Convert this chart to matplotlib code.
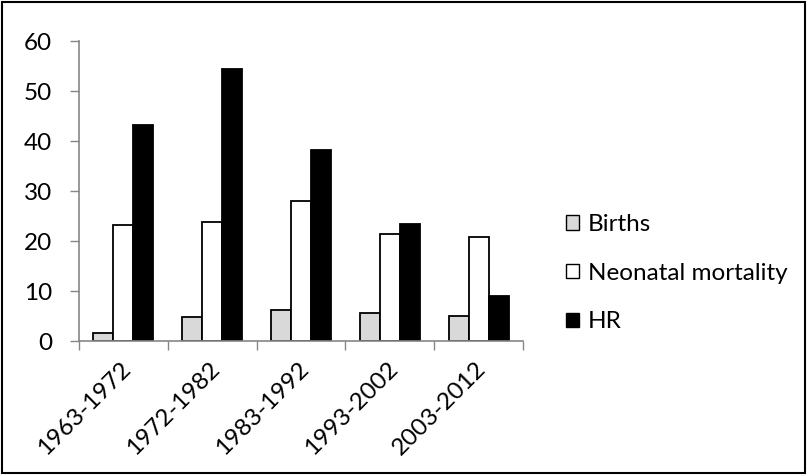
import matplotlib
matplotlib.use("Agg")
import matplotlib.pyplot as plt
import matplotlib.transforms as mtransforms
import numpy as np
from matplotlib.patches import Rectangle

categories = ["1963-1972", "1972-1982", "1983-1992", "1993-2002", "2003-2012"]
births = [1.6, 4.8, 6.2, 5.6, 5.1]
neonatal = [23.2, 23.9, 28.0, 21.5, 20.9]
hr = [43.2, 54.5, 38.3, 23.4, 9.0]
series_names = ["Births", "Neonatal mortality", "HR"]

plt.rcParams['font.family'] = ['Lato', 'DejaVu Sans']
FS = 17.5

W, H = 807, 475
fig = plt.figure(figsize=(W/100, H/100), dpi=100)
ax = fig.add_axes([79/W, 1-341/H, (523-79)/W, (341-41)/H])

x = np.arange(len(categories))
bw = 0.225
ax.bar(x - bw, births, bw, color="#d9d9d9", edgecolor="black", linewidth=1.3, label=series_names[0])
ax.bar(x, neonatal, bw, color="white", edgecolor="black", linewidth=1.3, label=series_names[1])
ax.bar(x + bw, hr, bw, color="black", edgecolor="black", linewidth=1.3, label=series_names[2])

ax.set_xlim(-0.5, len(categories) - 0.5)
ax.set_ylim(0, 60)
ax.set_yticks(range(0, 61, 10))
ax.tick_params(axis='y', direction='out', length=6.5, width=1, color='#868686', labelsize=FS, pad=13)
ax.set_xticks(np.arange(-0.5, len(categories)), minor=False)
ax.set_xticklabels([])
ax.set_xticks(x, minor=True)
ax.set_xticklabels(categories, minor=True, rotation=45, ha='right', va='top',
                   rotation_mode='anchor', fontsize=FS)
ax.tick_params(axis='x', which='major', direction='out', length=6.5, width=1, color='#868686')
ax.tick_params(axis='x', which='minor', length=0, pad=12)
offset = mtransforms.ScaledTranslation(-3/100, 0, fig.dpi_scale_trans)
for lab in ax.get_xticklabels(minor=True):
    lab.set_transform(lab.get_transform() + offset)
for s in ['top', 'right']:
    ax.spines[s].set_visible(False)
for s in ['left', 'bottom']:
    ax.spines[s].set_color('#868686')
    ax.spines[s].set_linewidth(1.2)

leg = fig.legend(loc='upper left', bbox_to_anchor=(566/W, 1-214/H), frameon=False,
                 fontsize=FS, handlelength=0.53, handleheight=0.53, handletextpad=0.37,
                 labelspacing=1.14, borderpad=0, borderaxespad=0)
for p in leg.get_patches():
    p.set_linewidth(1.0)

fig.patches.append(Rectangle((2/W, 2/H), 1-4/W, 1-4/H, transform=fig.transFigure,
                             fill=False, edgecolor='black', linewidth=1.5))

fig.savefig("out.png", dpi=100)
